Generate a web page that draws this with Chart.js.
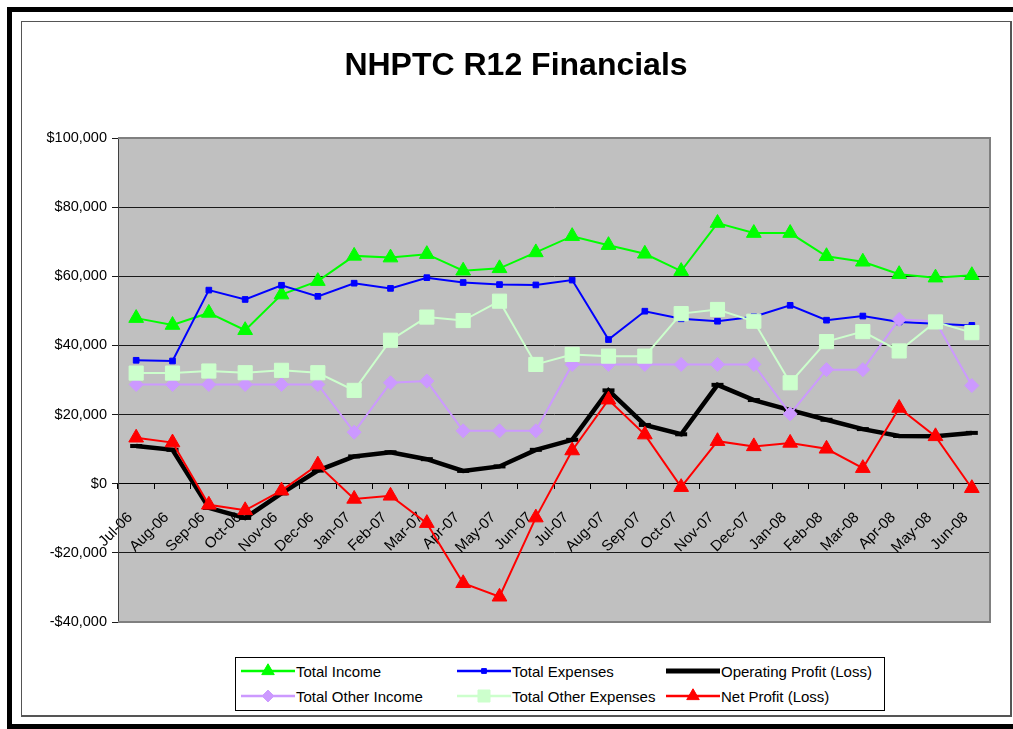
<!DOCTYPE html>
<html>
<head>
<meta charset="utf-8">
<title>NHPTC R12 Financials</title>
<script src="https://cdn.jsdelivr.net/npm/chart.js@4.4.0/dist/chart.umd.min.js"></script>
<style>
  body { margin: 0; background: #fff; width: 1013px; height: 729px; overflow: hidden; position: relative;
         font-family: "Liberation Sans", Arial, sans-serif; }
  #outer { position: absolute; left: 7px; top: 7px; width: 1030px; height: 722px; border: 5px solid #000; box-sizing: border-box; }
  #frame { position: absolute; left: 21px; top: 21px; width: 991px; height: 696px; border: 1px solid #555;
           border-right-width: 2px; border-bottom-width: 2px; box-sizing: border-box; background: #fff; }
  #wrap { position: absolute; left: 22px; top: 22px; width: 988px; height: 694px; }
  #legend { position: absolute; left: 235px; top: 657px; width: 650px; height: 54px; border: 1px solid #000;
            box-sizing: border-box; background: #fff; }
  .item { position: absolute; height: 20px; display: flex; align-items: center; font-size: 15px; color: #000; white-space: nowrap; }
  .item canvas { display: block; margin-right: 1px; }
</style>
</head>
<body>
<div id="outer"></div>
<div id="frame"></div>
<div id="wrap"><canvas id="grafico" width="988" height="694"></canvas></div>
<div id="legend"></div>

<script>
// ===== Datos =====
const meses = ['Jul-06', 'Aug-06', 'Sep-06', 'Oct-06', 'Nov-06', 'Dec-06', 'Jan-07', 'Feb-07', 'Mar-07', 'Apr-07',
               'May-07', 'Jun-07', 'Jul-07', 'Aug-07', 'Sep-07', 'Oct-07', 'Nov-07', 'Dec-07', 'Jan-08', 'Feb-08',
               'Mar-08', 'Apr-08', 'May-08', 'Jun-08'];

const totalIncome = [47900, 45900, 49400, 44400, 54700, 58600, 65900, 65400, 66400, 61600, 62300, 66900,
                     71600, 69000, 66500, 61500, 75400, 72500, 72500, 65800, 64200, 60600, 59600, 60300];

const totalExpenses = [35700, 35500, 56000, 53300, 57400, 54200, 58000, 56500, 59600, 58200, 57600, 57500,
                       58900, 41700, 49900, 47700, 47000, 48300, 51600, 47300, 48500, 46800, 46300, 45800];

const operatingProfit = [10900, 9800, -7000, -9900, -2800, 3800, 7900, 9100, 7100, 3700, 5000, 9800,
                         12700, 27000, 17000, 14300, 28600, 24200, 21300, 18500, 15800, 13800, 13700, 14700];

const totalOtherIncome = [28700, 28700, 28700, 28700, 28700, 28700, 14900, 29200, 29700, 15300, 15300, 15300,
                          34500, 34500, 34500, 34500, 34500, 34500, 20200, 33000, 33000, 47500, 47000, 28400];

const totalOtherExpenses = [32000, 32000, 32600, 32100, 32800, 32100, 27000, 41500, 48200, 47200, 52800, 34500,
                            37400, 36900, 36900, 49200, 50400, 47000, 29200, 41100, 44000, 38400, 46800, 43700];

const netProfit = [13300, 11900, -6100, -7700, -2000, 5500, -4400, -3500, -11400, -28800, -32700, -9800,
                   9600, 24300, 14200, -1000, 12300, 10800, 11800, 10100, 4500, 21900, 13700, -1300];

const ejeY = { min: -40000, max: 100000, paso: 20000 };

// ===== Series (orden de Excel: la última queda encima) =====
const series = [
  { label: 'Total Income',         data: totalIncome,        color: '#00FF00', punto: 'triangle', radio: 8.5, grosor: 2 },
  { label: 'Total Expenses',       data: totalExpenses,      color: '#0000FF', punto: 'rect',     radio: 4,   grosor: 2 },
  { label: 'Operating Profit (Loss)', data: operatingProfit, color: '#000000', punto: 'line',     radio: 6,   grosor: 4.5 },
  { label: 'Total Other Income',   data: totalOtherIncome,   color: '#CC99FF', punto: 'rectRot',  radio: 7,   grosor: 2 },
  { label: 'Total Other Expenses', data: totalOtherExpenses, color: '#CCFFCC', punto: 'rect',     radio: 10,  grosor: 2 },
  { label: 'Net Profit (Loss)',    data: netProfit,          color: '#FF0000', punto: 'triangle', radio: 8.5, grosor: 2 }
];

const fuente = '"Liberation Sans", Arial, sans-serif';

// Fondo gris del área de trazado y su borde
const areaTrazado = {
  id: 'areaTrazado',
  beforeDraw(chart) {
    const { ctx, chartArea: a } = chart;
    ctx.save();
    ctx.fillStyle = '#C0C0C0';
    ctx.fillRect(a.left, a.top, a.width, a.height);
    ctx.restore();
  },
  beforeDatasetsDraw(chart) {
    const { ctx, chartArea: a } = chart;
    ctx.save();
    ctx.strokeStyle = '#808080';
    ctx.lineWidth = 2;
    ctx.beginPath();
    ctx.moveTo(a.left, a.top);
    ctx.lineTo(a.right, a.top);
    ctx.lineTo(a.right, a.bottom);
    ctx.lineTo(a.left, a.bottom);
    ctx.stroke();
    ctx.restore();
  }
};

const grafico = new Chart(document.getElementById('grafico'), {
  type: 'line',
  data: {
    labels: meses,
    datasets: series.map((s, i) => ({
      label: s.label,
      data: s.data,
      borderColor: s.color,
      backgroundColor: s.color,
      borderWidth: s.grosor,
      pointStyle: s.punto,
      pointRadius: s.radio,
      pointBorderWidth: s.punto === 'line' ? 4 : 1,
      pointBorderColor: s.color,
      pointBackgroundColor: s.color,
      tension: 0,
      fill: false,
      order: series.length - i
    }))
  },
  options: {
    responsive: false,
    animation: false,
    events: [],
    layout: { padding: { left: 20, right: 20, top: 0, bottom: 94 } },
    plugins: {
      legend: { display: false },
      tooltip: { enabled: false },
      title: {
        display: true,
        text: 'NHPTC R12 Financials',
        color: '#000',
        font: { family: fuente, size: 32, weight: 'bold' },
        padding: { top: 25, bottom: 52.6 }
      }
    },
    scales: {
      x: {
        type: 'category',
        position: { y: 0 },
        offset: true,
        grid: { offset: true, drawOnChartArea: false, drawTicks: true, tickLength: 5, color: '#000' },
        border: { color: '#000', width: 1 },
        ticks: { autoSkip: false, maxRotation: 45, minRotation: 45, color: '#000', padding: 20, labelOffset: -6,
                 font: { family: fuente, size: 15 } }
      },
      y: {
        min: ejeY.min,
        max: ejeY.max,
        afterFit(scale) { scale.width = 76; },
        grid: { color: '#1a1a1a', lineWidth: 1, tickLength: 6 },
        border: { color: '#404040', width: 1 },
        ticks: {
          stepSize: ejeY.paso,
          padding: 5,
          color: '#000',
          font: { family: fuente, size: 14.5 },
          callback: v => (v < 0 ? '-$' : '$') + Math.abs(v).toLocaleString('en-US')
        }
      }
    }
  },
  plugins: [areaTrazado]
});

// ===== Leyenda (3 columnas x 2 filas, como en Excel) =====
const posLeyenda = [[5, 3], [221, 3], [430, 3], [5, 28], [221, 28], [430, 28]];
const leyenda = document.getElementById('legend');

series.forEach((s, k) => {
  const item = document.createElement('div');
  item.className = 'item';
  item.style.left = posLeyenda[k][0] + 'px';
  item.style.top = posLeyenda[k][1] + 'px';

  const c = document.createElement('canvas');
  c.width = 54; c.height = 20;
  const ctx = c.getContext('2d');
  ctx.strokeStyle = s.color;
  ctx.fillStyle = s.color;
  ctx.lineWidth = s.punto === 'line' ? 5 : 2.5;
  ctx.beginPath();
  ctx.moveTo(0, 10);
  ctx.lineTo(54, 10);
  ctx.stroke();
  if (s.punto !== 'line' && Chart.helpers && Chart.helpers.drawPoint) {
    ctx.lineWidth = 1;
    Chart.helpers.drawPoint(ctx, { pointStyle: s.punto, radius: s.radio * 0.85, borderWidth: 1, rotation: 0 }, 27, 10);
  }
  item.appendChild(c);

  const txt = document.createElement('span');
  txt.textContent = s.label;
  item.appendChild(txt);
  leyenda.appendChild(item);
});
</script>
</body>
</html>
